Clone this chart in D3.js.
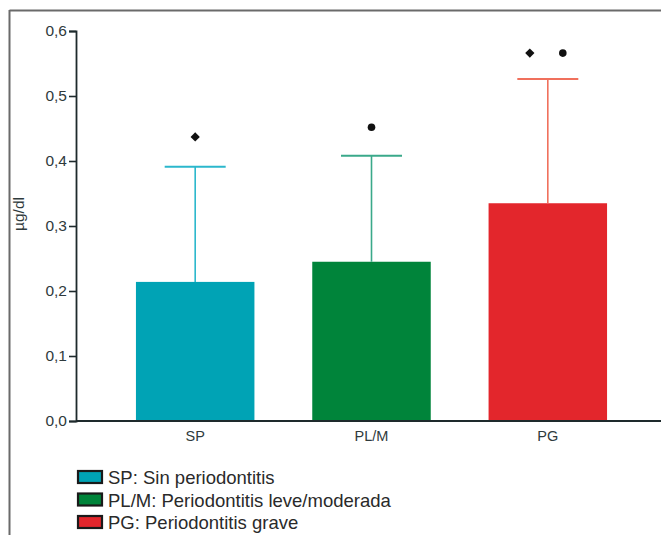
<!DOCTYPE html>
<html>
<head>
<meta charset="utf-8">
<script src="https://cdn.jsdelivr.net/npm/d3@7"></script>
<style>
  body { margin: 0; background: #fff; }
  svg { display: block; font-family: "Liberation Sans", Arial, sans-serif; }
</style>
</head>
<body>
<svg id="chart" width="661" height="535"></svg>
<script>
// data
var groups = ["SP", "PL/M", "PG"];
var means = [0.214, 0.245, 0.335];
var errTop = [0.391, 0.408, 0.526];
var legendLabels = ["SP: Sin periodontitis", "PL/M: Periodontitis leve/moderada", "PG: Periodontitis grave"];
var yTicks = [0, 0.1, 0.2, 0.3, 0.4, 0.5, 0.6];

// outliers
var outGroup = ["SP", "PL/M", "PG", "PG"];
var outValue = [0.437, 0.452, 0.566, 0.566];
var outShape = ["diamond", "circle", "diamond", "circle"];

var barColors = ["#00a3b5", "#00843a", "#e3262c"];
var errColors = ["#2bb7cc", "#3aa98a", "#f0705c"];

var svg = d3.select("#chart");

// frame (top + left only, picture is cropped)
svg.append("line").attr("x1", 9.5).attr("x2", 661).attr("y1", 10.5).attr("y2", 10.5)
    .attr("stroke", "#6a6a6a").attr("stroke-width", 2);
svg.append("line").attr("x1", 9.5).attr("x2", 9.5).attr("y1", 10).attr("y2", 535)
    .attr("stroke", "#6a6a6a").attr("stroke-width", 2);

var y = d3.scaleLinear().domain([0, 0.6]).range([421, 31]);
var x = d3.scaleBand().domain(groups).range([76, 667])
    .paddingInner(0.328).paddingOuter(0.34);

// bars
svg.selectAll("rect.bar")
    .data(groups)
    .enter()
    .append("rect")
    .attr("class", "bar")
    .attr("x", function (d) { return x(d); })
    .attr("width", x.bandwidth())
    .attr("y", function (d, i) { return y(means[i]); })
    .attr("height", function (d, i) { return y(0) - y(means[i]); })
    .attr("fill", function (d, i) { return barColors[i]; });

// error bars (upper only)
var capHalf = 30.5;
groups.forEach(function (g, i) {
    var cx = x(g) + x.bandwidth() / 2;
    svg.append("line")
        .attr("x1", cx).attr("x2", cx)
        .attr("y1", y(means[i])).attr("y2", y(errTop[i]))
        .attr("stroke", errColors[i]).attr("stroke-width", 1.6);
    svg.append("line")
        .attr("x1", cx - capHalf).attr("x2", cx + capHalf)
        .attr("y1", y(errTop[i])).attr("y2", y(errTop[i]))
        .attr("stroke", errColors[i]).attr("stroke-width", 2);
});

// outlier markers, spread inside their group
var outliers = outGroup.map(function (g, i) {
    return { g: g, v: outValue[i], s: outShape[i] };
});
var perGroup = d3.group(outliers, function (d) { return d.g; });
var diamond = d3.symbol().type(d3.symbolDiamond2).size(55);
outliers.forEach(function (d) {
    var list = perGroup.get(d.g);
    var sub = d3.scalePoint().domain(d3.range(list.length)).range([-18, 15]).padding(0);
    var off = list.length > 1 ? sub(list.indexOf(d)) : 0;
    var cx = x(d.g) + x.bandwidth() / 2 + off;
    if (d.s === "diamond") {
        svg.append("path").attr("d", diamond)
            .attr("transform", "translate(" + cx + "," + y(d.v) + ")")
            .attr("fill", "#111");
    } else {
        svg.append("circle").attr("cx", cx).attr("cy", y(d.v)).attr("r", 3.8)
            .attr("fill", "#111");
    }
});

// y axis
var yAxis = svg.append("g")
    .attr("transform", "translate(76,0)")
    .call(d3.axisLeft(y).tickValues(yTicks).tickSize(7).tickPadding(2)
        .tickFormat(function (d) { return d3.format(".1f")(d).replace(".", ","); }));
yAxis.select(".domain").attr("stroke", "#1e2a2c").attr("stroke-width", 1.8);
yAxis.selectAll(".tick line").attr("stroke", "#1e2a2c").attr("stroke-width", 1.6);
yAxis.selectAll(".tick text").attr("fill", "#2f3a3c")
    .style("font-size", "15.5px").style("font-family", "Liberation Sans, Arial, sans-serif");

// x axis
var xAxis = svg.append("g")
    .attr("transform", "translate(0,421)")
    .call(d3.axisBottom(x).tickSize(0).tickPadding(10));
xAxis.select(".domain").attr("d", "M76,0H661").attr("stroke", "#1e2a2c").attr("stroke-width", 1.8);
xAxis.selectAll(".tick text").attr("fill", "#2f3a3c")
    .style("font-size", "14.5px").style("font-family", "Liberation Sans, Arial, sans-serif");

// y label
svg.append("text")
    .attr("transform", "translate(24,214) rotate(-90)")
    .attr("text-anchor", "middle")
    .attr("fill", "#2f3a3c")
    .style("font-size", "15.5px")
    .text("µg/dl");

// legend
var leg = svg.selectAll("g.leg")
    .data(legendLabels)
    .enter()
    .append("g")
    .attr("class", "leg")
    .attr("transform", function (d, i) { return "translate(78," + (471 + i * 22.5) + ")"; });
leg.append("rect")
    .attr("width", 24).attr("height", 12)
    .attr("fill", function (d, i) { return barColors[i]; })
    .attr("stroke", "#1a1a1a").attr("stroke-width", 2.2);
leg.append("text")
    .attr("x", 30).attr("y", 13)
    .attr("fill", "#2a2a2a")
    .style("font-size", "18.5px")
    .text(function (d) { return d; });
</script>
</body>
</html>
